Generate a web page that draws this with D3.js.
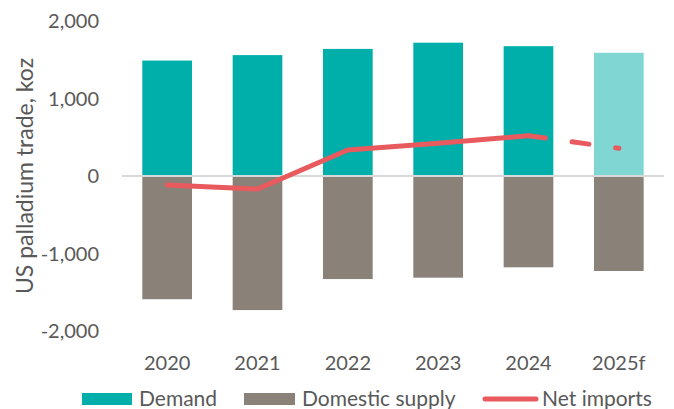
<!DOCTYPE html>
<html>
<head>
<meta charset="utf-8">
<script src="https://cdn.jsdelivr.net/npm/d3@7"></script>
<style>
  body { margin: 0; background: #fff; }
  text { font-family: Lato, "Open Sans", sans-serif; fill: #595959; }
</style>
</head>
<body>
<div id="chart"></div>
<script>
const years = ["2020", "2021", "2022", "2023", "2024", "2025f"];
const demand = [1490, 1560, 1640, 1720, 1675, 1590];
const domesticSupply = [-1590, -1730, -1330, -1312, -1178, -1226];
const netImports = [-116, -168, 335, 422, 520, 357];
const yTicks = [-2000, -1000, 0, 1000, 2000];

const width = 674, height = 409;
const margin = {top: 21, right: 10, bottom: 78, left: 122};

const svg = d3.select("#chart").append("svg")
    .attr("width", width)
    .attr("height", height);

let x = d3.scaleBand()
    .domain(years)
    .range([margin.left, 664])
    .paddingInner(0.45)
    .paddingOuter(0.225);

let y = d3.scaleLinear()
    .domain([-2000, 2000])
    .range([331, 21]);

// y tick labels (no axis line), hyphen for negatives like the original
const fmt = d => (d < 0 ? "-" : "") + d3.format(",")(Math.abs(d));
svg.append("g")
    .selectAll("text")
    .data(yTicks)
    .enter().append("text")
    .attr("x", 99)
    .attr("y", d => y(d))
    .attr("dy", "0.35em")
    .attr("text-anchor", "end")
    .style("font-size", "20px")
    .text(fmt);

// y label
svg.append("text")
    .attr("transform", "translate(33, 176) rotate(-90)")
    .attr("text-anchor", "middle")
    .style("font-size", "23px")
    .text("US palladium trade, koz");

// Demand bars
svg.append("g")
    .selectAll("rect")
    .data(years)
    .enter().append("rect")
    .attr("x", d => x(d))
    .attr("width", x.bandwidth())
    .attr("y", (d, i) => y(demand[i]))
    .attr("height", (d, i) => y(0) - y(demand[i]))
    .attr("fill", d => d === "2025f" ? "#7FD6D2" : "#00AFAA");

// Domestic supply bars
svg.append("g")
    .selectAll("rect")
    .data(years)
    .enter().append("rect")
    .attr("x", d => x(d))
    .attr("width", x.bandwidth())
    .attr("y", y(0))
    .attr("height", (d, i) => y(domesticSupply[i]) - y(0))
    .attr("fill", "#8A8178");

// zero line
svg.append("line")
    .attr("x1", margin.left)
    .attr("x2", 664)
    .attr("y1", y(0))
    .attr("y2", y(0))
    .attr("stroke", "#D9D9D9")
    .attr("stroke-width", 2);

// Net imports line: solid to 2024, dashed for forecast
const pts = years.map((d, i) => [x(d) + x.bandwidth() / 2, y(netImports[i])]);
const line = d3.line();

svg.append("path")
    .attr("d", line(pts.slice(0, 5)))
    .attr("fill", "none")
    .attr("stroke", "#E95A5F")
    .attr("stroke-width", 5)
    .attr("stroke-linejoin", "round")
    .attr("stroke-linecap", "round");

svg.append("path")
    .attr("d", line(pts.slice(4)))
    .attr("fill", "none")
    .attr("stroke", "#E95A5F")
    .attr("stroke-width", 5)
    .attr("stroke-linecap", "round")
    .attr("stroke-dasharray", "17 27");

// x labels
svg.append("g")
    .selectAll("text")
    .data(years)
    .enter().append("text")
    .attr("x", d => x(d) + x.bandwidth() / 2)
    .attr("y", 363)
    .attr("dy", "0.35em")
    .attr("text-anchor", "middle")
    .style("font-size", "20px")
    .text(d => d);

// legend
const legend = svg.append("g");
legend.append("rect").attr("x", 82).attr("y", 393).attr("width", 50).attr("height", 12).attr("fill", "#00AFAA");
legend.append("text").attr("x", 139).attr("y", 399).attr("dy", "0.35em").style("font-size", "21px").text("Demand");
legend.append("rect").attr("x", 244).attr("y", 393).attr("width", 51).attr("height", 12).attr("fill", "#8A8178");
legend.append("text").attr("x", 302).attr("y", 399).attr("dy", "0.35em").style("font-size", "21px").text("Domestic supply");
legend.append("line").attr("x1", 485).attr("x2", 536).attr("y1", 399).attr("y2", 399)
    .attr("stroke", "#E95A5F").attr("stroke-width", 5).attr("stroke-linecap", "round");
legend.append("text").attr("x", 542).attr("y", 399).attr("dy", "0.35em").style("font-size", "21px").text("Net imports");
</script>
</body>
</html>
